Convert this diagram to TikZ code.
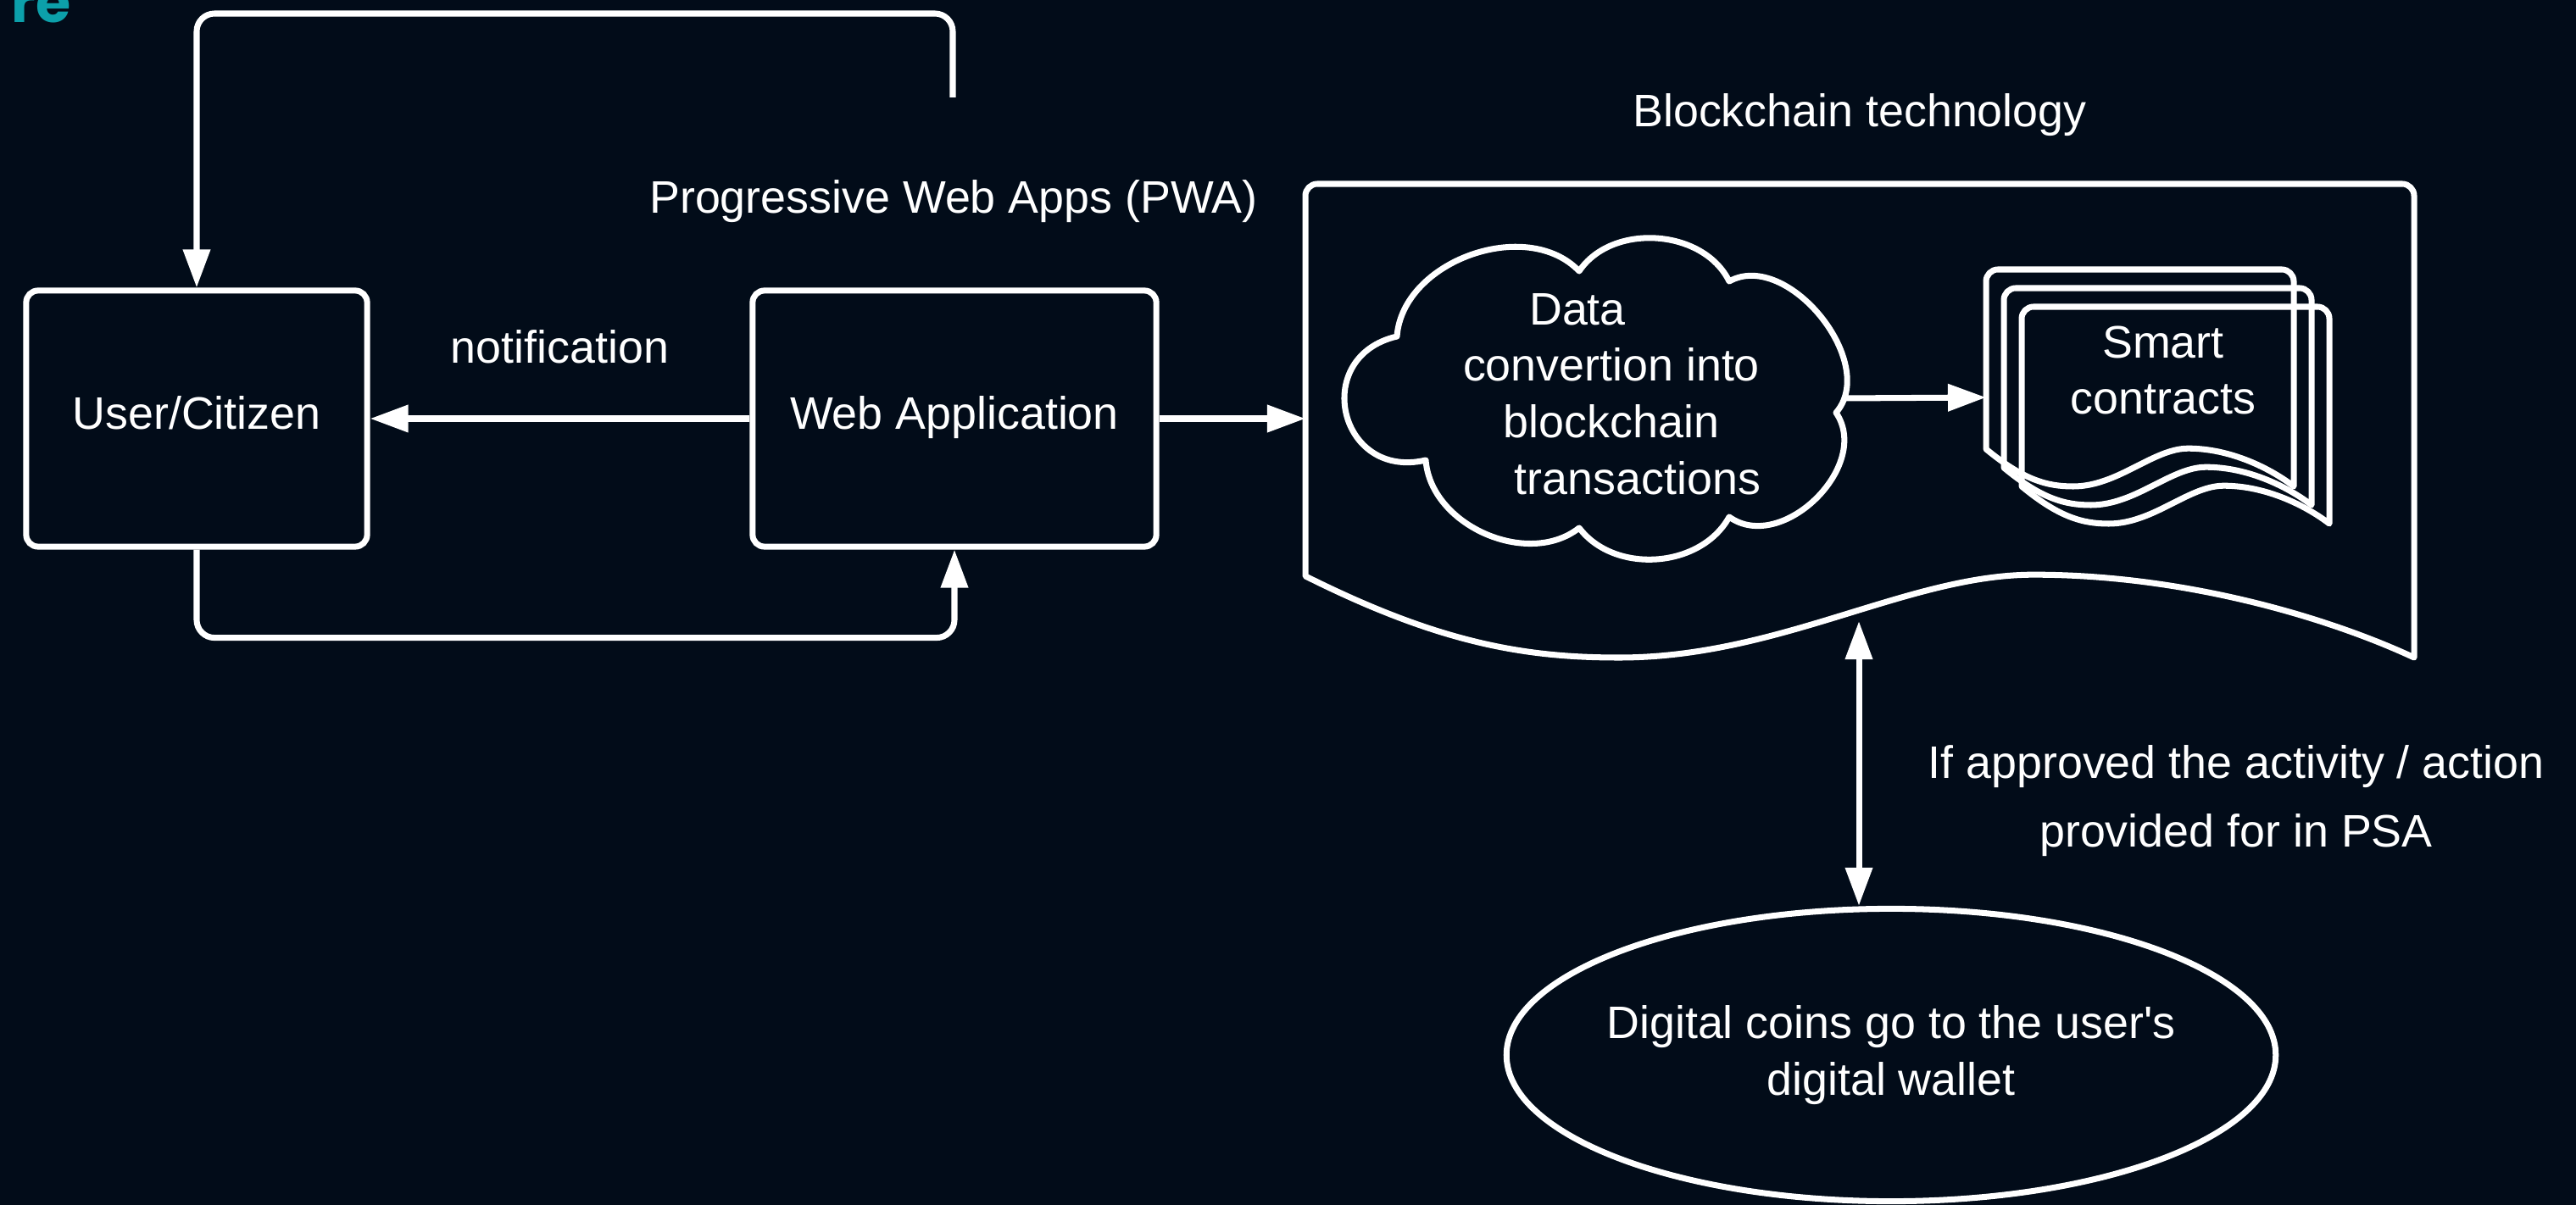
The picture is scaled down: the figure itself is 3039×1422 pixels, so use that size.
\documentclass[tikz,border=0pt]{standalone}
\usepackage{fontspec}
\setmainfont{Liberation Sans}
\newfontfamily\titlefont{Poppins}
\usetikzlibrary{arrows.meta,shapes.geometric}

\definecolor{bgnavy}{RGB}{2,12,25}
\definecolor{slideteal}{RGB}{12,160,170}

\tikzset{
  appbox/.style={draw=white, line width=2pt, rounded corners=4pt, text=white,
                 minimum width=4.02cm, minimum height=3.02cm, text height=11pt, text depth=4pt},
  doc/.style={draw=white, line width=2pt, line join=round},
  link/.style={draw=white, line width=2pt},
  lbl/.style={text=white, align=center}
}

%% document shape with a wavy bottom: x, y (top left), width, height
\newcommand{\wavedoc}[4]{%
  \draw[doc] ({#1},{#2+0.828*#4}) [rounded corners=4pt] -- (#1,#2) -- ({#1+#3},#2) [sharp corners]
    -- ({#1+#3},{#2+#4})
    .. controls ({#1+0.925*#3},{#2+0.918*#4}) and ({#1+0.795*#3},{#2+0.825*#4}) .. ({#1+0.657*#3},{#2+0.825*#4})
    .. controls ({#1+0.543*#3},{#2+0.825*#4}) and ({#1+0.428*#3},{#2+#4}) .. ({#1+0.283*#3},{#2+#4})
    .. controls ({#1+0.199*#3},{#2+#4}) and ({#1+0.122*#3},{#2+0.971*#4}) .. ({#1},{#2+0.828*#4}) -- cycle;}

\begin{document}
\begin{tikzpicture}[x=0.01cm, y=-0.01cm, font=\fontsize{15.3}{19}\selectfont,
                    >={Triangle[length=0.45cm,width=0.31cm]}]
    \fill[bgnavy] (0,0) rectangle (3039,1422);
    \useasboundingbox (0,0) rectangle (3039,1422);
    %% title remainder
    \node[anchor=base east, inner sep=0, text=slideteal, font=\titlefont\bfseries\fontsize{19}{22}\selectfont] (title) at (84,27) {re};

    %% left part
    \node[appbox] (user) at (232,494) {User/Citizen};
    \node[appbox, minimum width=4.76cm] (webapp) at (1126,494) {Web Application};
    \node[lbl] (pwa) at (1125,238) {Progressive Web Apps (PWA)};
    \coordinate (pwatop) at (1124,115);

    \draw[link,->] (webapp.west) -- node[lbl, above=0.5cm] (notif) {notification} (user.east);
    \draw[link,->, rounded corners=6pt] (user.south) -- ++(0,104) -| (webapp.south);
    \draw[link,->, rounded corners=6pt] (pwatop) -- ++(0,-99) -| (user.north);

    %% blockchain
    \node[lbl] (chainlbl) at (2194,136) {Blockchain technology};
    \wavedoc{1540}{217}{1308}{559}
    \coordinate (chainin) at (1540,494);
    \coordinate (chainout) at (2193,733);
    \draw[link,->] (webapp.east) -- (chainin);

    %% cloud
    \node[ellipse, minimum width=6cm, minimum height=3.76cm] (cloud) at (1887,470) {};
    \draw[doc] (1648,397) to[bend left=66] (1863,320) to[bend left=60] (2040,332)
        to[bend left=80] (2166,487) to[bend left=80, looseness=1.1] (2040,610) to[bend left=57] (1863,623)
        to[bend left=62] (1682,543) to[bend left=90, looseness=1.8] (1648,397) -- cycle;
    \node[lbl] (cloudtext) at (1901,465) {Data\hspace*{0.8cm}\\convertion into\\blockchain\\\hspace*{0.62cm}transactions};

    %% smart contracts
    \wavedoc{2343}{318}{363}{256}
    \wavedoc{2364}{340}{363}{256}
    \wavedoc{2385}{362}{363}{256}
    \node[lbl] (smart) at (2552,437) {Smart\\contracts};
    \coordinate (smartin) at (2343,469);
    \draw[link,->] ([xshift=-0.14cm]cloud.east) -- (smartin);

    %% wallet
    \node[ellipse, draw=white, line width=2pt, minimum width=9.07cm, minimum height=3.45cm,
          label={[lbl]center:{Digital coins go to the user\textquotesingle s\\digital wallet}}] (wallet)
        at (2231,1245) {};
    \draw[link,<->] (chainout) -- (chainout |- wallet.north);
    \node[lbl] (approved) at (2638,945) {If approved the activity / action\\[3.8pt]provided for in PSA};
\end{tikzpicture}
\end{document}
